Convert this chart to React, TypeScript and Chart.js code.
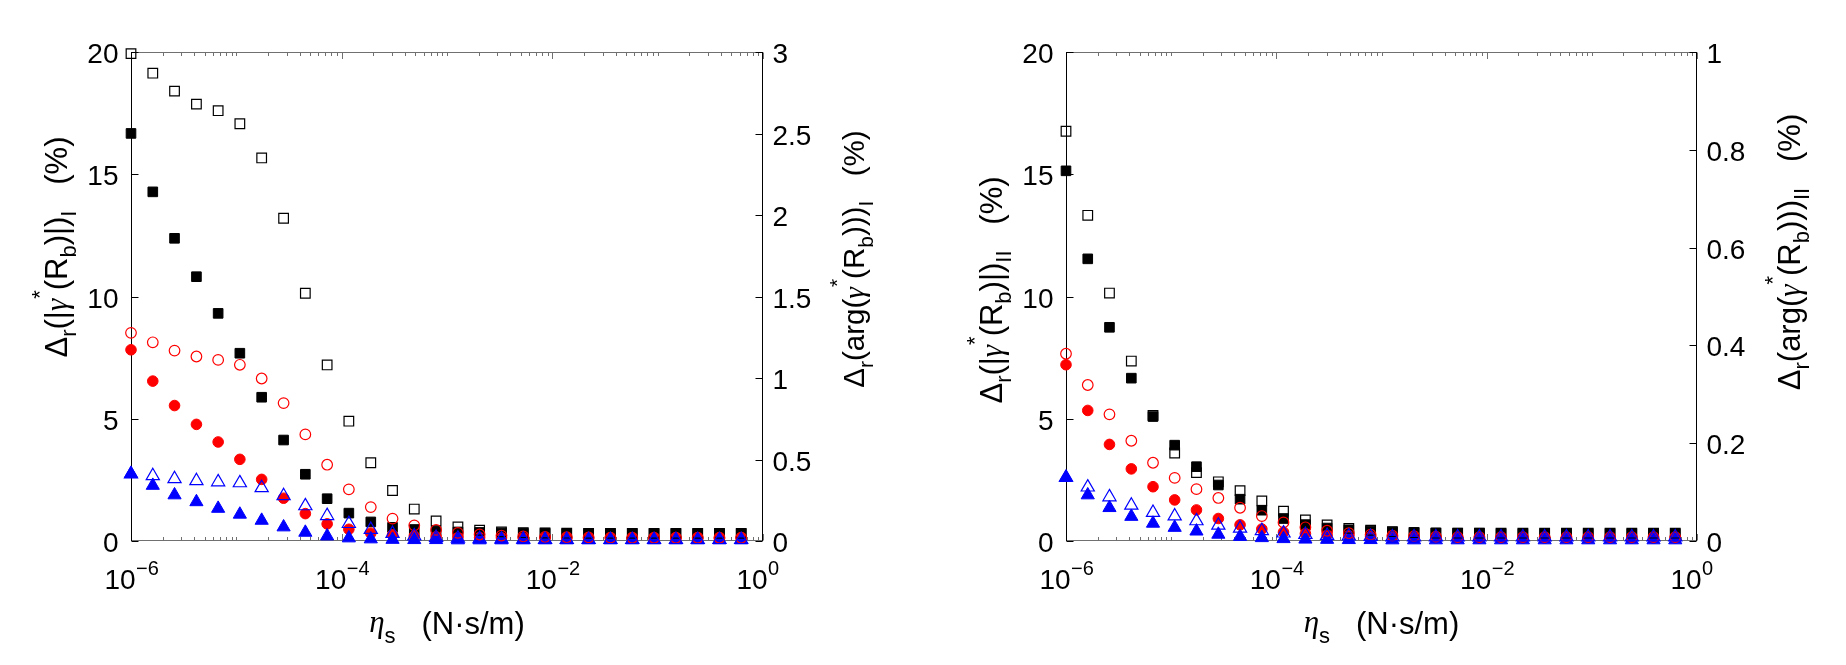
import React, { useEffect, useRef } from 'react';
import { Chart, registerables } from 'chart.js';

Chart.register(...registerables);

// Surface shear viscosity eta_s (N·s/m), logarithmically spaced
const ETA_S = [
  1.0e-6, 1.61e-6, 2.59e-6, 4.18e-6, 6.72e-6, 1.08e-5, 1.74e-5, 2.81e-5, 4.52e-5, 7.28e-5,
  1.17e-4, 1.89e-4, 3.04e-4, 4.89e-4, 7.88e-4, 1.27e-3, 2.04e-3, 3.29e-3, 5.3e-3, 8.53e-3,
  1.37e-2, 2.21e-2, 3.56e-2, 5.74e-2, 9.24e-2, 0.149, 0.24, 0.386, 0.621,
];

// Case I: relative error of |gamma*(R_b)| (left axis, %)
const MAG_I_SQUARE = [
  16.67, 14.28, 12.38, 10.81, 9.31, 7.68, 5.88, 4.13, 2.73, 1.73,
  1.14, 0.78, 0.56, 0.47, 0.41, 0.37, 0.35, 0.33, 0.32, 0.32,
  0.31, 0.31, 0.31, 0.31, 0.31, 0.31, 0.31, 0.31, 0.31,
];
const MAG_I_CIRCLE = [
  7.82, 6.54, 5.54, 4.77, 4.05, 3.34, 2.52, 1.75, 1.12, 0.7,
  0.48, 0.32, 0.25, 0.2, 0.17, 0.15, 0.14, 0.13, 0.12, 0.12,
  0.12, 0.12, 0.12, 0.12, 0.12, 0.12, 0.12, 0.12, 0.12,
];
const MAG_I_TRIANGLE = [
  2.75, 2.27, 1.88, 1.6, 1.33, 1.09, 0.84, 0.57, 0.35, 0.2,
  0.12, 0.08, 0.06, 0.05, 0.05, 0.04, 0.04, 0.04, 0.04, 0.04,
  0.04, 0.04, 0.04, 0.04, 0.04, 0.04, 0.04, 0.04, 0.04,
];
// Case I: relative error of arg(gamma*(R_b)) (right axis, %)
const ARG_I_SQUARE = [
  2.99, 2.87, 2.76, 2.68, 2.64, 2.56, 2.35, 1.98, 1.52, 1.08,
  0.735, 0.48, 0.31, 0.196, 0.123, 0.086, 0.066, 0.056, 0.051, 0.049,
  0.048, 0.047, 0.047, 0.047, 0.047, 0.047, 0.047, 0.047, 0.047,
];
const ARG_I_CIRCLE = [
  1.277, 1.219, 1.168, 1.132, 1.111, 1.081, 0.997, 0.846, 0.654, 0.468,
  0.317, 0.208, 0.137, 0.096, 0.068, 0.05, 0.04, 0.033, 0.028, 0.025,
  0.023, 0.022, 0.021, 0.02, 0.02, 0.02, 0.02, 0.02, 0.02,
];
const ARG_I_TRIANGLE = [
  0.41, 0.4, 0.381, 0.369, 0.362, 0.356, 0.326, 0.277, 0.215, 0.155,
  0.106, 0.07, 0.045, 0.03, 0.021, 0.016, 0.013, 0.011, 0.01, 0.009,
  0.009, 0.008, 0.008, 0.008, 0.008, 0.008, 0.008, 0.008, 0.008,
];

// Case II: relative error of |gamma*(R_b)| (left axis, %)
const MAG_II_SQUARE = [
  15.14, 11.54, 8.74, 6.66, 5.09, 3.92, 3.04, 2.29, 1.71, 1.26,
  0.92, 0.67, 0.53, 0.46, 0.41, 0.37, 0.35, 0.33, 0.32, 0.32,
  0.31, 0.31, 0.31, 0.31, 0.31, 0.31, 0.31, 0.31, 0.31,
];
const MAG_II_CIRCLE = [
  7.21, 5.34, 3.95, 2.95, 2.22, 1.68, 1.27, 0.92, 0.66, 0.49,
  0.36, 0.3, 0.25, 0.21, 0.18, 0.16, 0.14, 0.13, 0.12, 0.12,
  0.12, 0.12, 0.12, 0.12, 0.12, 0.12, 0.12, 0.12, 0.12,
];
const MAG_II_TRIANGLE = [
  2.59, 1.88, 1.36, 1.0, 0.72, 0.55, 0.4, 0.27, 0.18, 0.13,
  0.09, 0.07, 0.06, 0.05, 0.05, 0.04, 0.04, 0.04, 0.04, 0.04,
  0.04, 0.04, 0.04, 0.04, 0.04, 0.04, 0.04, 0.04, 0.04,
];
// Case II: relative error of arg(gamma*(R_b)) (right axis, %)
const ARG_II_SQUARE = [
  0.838, 0.666, 0.507, 0.368, 0.257, 0.18, 0.14, 0.121, 0.103, 0.082,
  0.061, 0.043, 0.033, 0.026, 0.022, 0.019, 0.017, 0.016, 0.016, 0.016,
  0.016, 0.016, 0.016, 0.016, 0.016, 0.016, 0.016, 0.016, 0.016,
];
const ARG_II_CIRCLE = [
  0.383, 0.319, 0.259, 0.205, 0.16, 0.129, 0.106, 0.088, 0.068, 0.051,
  0.038, 0.028, 0.021, 0.016, 0.013, 0.011, 0.01, 0.009, 0.008, 0.008,
  0.008, 0.008, 0.008, 0.008, 0.008, 0.008, 0.008, 0.008, 0.008,
];
const ARG_II_TRIANGLE = [
  0.13, 0.11, 0.09, 0.073, 0.058, 0.051, 0.041, 0.032, 0.026, 0.021,
  0.016, 0.013, 0.011, 0.01, 0.009, 0.008, 0.008, 0.008, 0.008, 0.008,
  0.008, 0.008, 0.008, 0.008, 0.008, 0.008, 0.008, 0.008, 0.008,
];

// Axis ticks
const X_MAJOR = [1e-6, 1e-4, 1e-2, 1];
const X_EXPONENTS = ['\u22126', '\u22124', '\u22122', '0'];
const Y_LEFT_TICKS = [0, 5, 10, 15, 20];
const Y_RIGHT_TICKS_I = [0, 0.5, 1, 1.5, 2, 2.5, 3];
const Y_RIGHT_TICKS_II = [0, 0.2, 0.4, 0.6, 0.8, 1];

const SANS = '"Liberation Sans", Arial, Helvetica, sans-serif';
const SERIF = '"Liberation Serif", "DejaVu Serif", serif';

type Seg = { t: string; s: number; dy?: number; g?: boolean };

function segFont(sg: Seg) {
  return sg.g ? `italic ${sg.s}px ${SERIF}` : `${sg.s}px ${SANS}`;
}

// Draws a run of text pieces (with sub/superscripts) centred on x
function drawRich(ctx: CanvasRenderingContext2D, segs: Seg[], x: number, y: number) {
  let w = 0;
  for (const sg of segs) {
    ctx.font = segFont(sg);
    w += ctx.measureText(sg.t).width;
  }
  let cx = x - w / 2;
  ctx.textAlign = 'left';
  ctx.textBaseline = 'alphabetic';
  for (const sg of segs) {
    ctx.font = segFont(sg);
    ctx.fillText(sg.t, cx, y + (sg.dy || 0));
    cx += ctx.measureText(sg.t).width;
  }
}

function magTitle(sub: string, fs = 31): Seg[] {
  const ss = Math.round(fs * 0.71);
  return [
    { t: '\u0394', s: fs },
    { t: 'r', s: ss, dy: 9 },
    { t: '(|', s: fs },
    { t: '\u03b3', s: fs, g: true },
    { t: '*', s: ss, dy: -20 },
    { t: '(R', s: fs },
    { t: 'b', s: ss, dy: 9 },
    { t: ')|)', s: fs },
    { t: sub, s: ss, dy: 9 },
    { t: '   (%)', s: fs },
  ];
}

function argTitle(sub: string, fs = 31): Seg[] {
  const ss = Math.round(fs * 0.71);
  return [
    { t: '\u0394', s: fs },
    { t: 'r', s: ss, dy: 9 },
    { t: '(arg(', s: fs },
    { t: '\u03b3', s: fs, g: true },
    { t: '*', s: ss, dy: -20 },
    { t: '(R', s: fs },
    { t: 'b', s: ss, dy: 9 },
    { t: ')))', s: fs },
    { t: sub, s: ss, dy: 9 },
    { t: '   (%)', s: fs },
  ];
}

const X_TITLE: Seg[] = [
  { t: '\u03b7', s: 31, g: true, dy: -2 },
  { t: 's', s: 22, dy: 9 },
  { t: '   (N\u00b7s/m)', s: 31 },
];

type FrameOpts = {
  rightTicks: number[];
  leftTitle: Seg[];
  rightTitle: Seg[];
  leftTitleDx: number;
  leftTitleY: number;
  rightTitleDx: number;
  rightTitleY: number;
  xTitleY: number;
};

// Box, inward ticks, tick labels and axis titles drawn from the chart's scales
const framePlugin = {
  id: 'frame',
  beforeDatasetsDraw(chart: any, _args: any, o: FrameOpts) {
    const { ctx, chartArea: a } = chart;
    const xs = chart.scales.x;
    const yl = chart.scales.y;
    const yr = chart.scales.y2;
    const L = Math.round(a.left) + 0.5;
    const R = Math.round(a.right) - 0.5;
    const T = Math.round(a.top) + 0.5;
    const B = Math.round(a.bottom) - 0.5;

    ctx.save();
    ctx.lineWidth = 1;

    // horizontal box edges and log ticks
    ctx.strokeStyle = '#707070';
    ctx.beginPath();
    ctx.moveTo(a.left, T);
    ctx.lineTo(a.right, T);
    ctx.moveTo(a.left, B);
    ctx.lineTo(a.right, B);
    for (let e = -6; e <= 0; e++) {
      for (let m = 1; m <= 9; m++) {
        const v = m * Math.pow(10, e);
        if (v > 1.0000001) break;
        const px = Math.round(xs.getPixelForValue(v)) + 0.5;
        const major = m === 1 && e % 2 === 0;
        const len = major ? 6.5 : 3.5;
        ctx.moveTo(px, B);
        ctx.lineTo(px, B - len);
        ctx.moveTo(px, T);
        ctx.lineTo(px, T + len);
      }
    }
    ctx.stroke();

    // vertical axes and their ticks
    ctx.strokeStyle = '#000';
    ctx.beginPath();
    ctx.moveTo(L, a.top);
    ctx.lineTo(L, a.bottom);
    ctx.moveTo(R, a.top);
    ctx.lineTo(R, a.bottom);
    for (const v of Y_LEFT_TICKS) {
      const py = Math.round(yl.getPixelForValue(v)) + 0.5;
      ctx.moveTo(L, py);
      ctx.lineTo(L + 7, py);
    }
    for (const v of o.rightTicks) {
      const py = Math.round(yr.getPixelForValue(v)) + 0.5;
      ctx.moveTo(R, py);
      ctx.lineTo(R - 7, py);
    }
    ctx.stroke();

    // tick labels
    ctx.fillStyle = '#000';
    ctx.textBaseline = 'alphabetic';
    ctx.font = `28px ${SANS}`;
    ctx.textAlign = 'right';
    for (const v of Y_LEFT_TICKS) {
      ctx.fillText(String(v), a.left - 12.5, yl.getPixelForValue(v) + 11);
    }
    ctx.textAlign = 'left';
    for (const v of o.rightTicks) {
      ctx.fillText(String(v), a.right + 9.5, yr.getPixelForValue(v) + 11);
    }
    X_MAJOR.forEach((v, i) => {
      const px = xs.getPixelForValue(v);
      ctx.font = `28px ${SANS}`;
      const bw = ctx.measureText('10').width;
      const bx = px - 11 - bw / 2;
      ctx.fillText('10', bx, a.bottom + 48);
      ctx.font = `20px ${SANS}`;
      ctx.fillText(X_EXPONENTS[i], bx + bw + 0.5, a.bottom + 34);
    });

    // axis titles
    drawRich(ctx, X_TITLE, (a.left + a.right) / 2, o.xTitleY);

    ctx.save();
    ctx.translate(a.left + o.leftTitleDx, o.leftTitleY);
    ctx.rotate(-Math.PI / 2);
    drawRich(ctx, o.leftTitle, 0, 0);
    ctx.restore();

    ctx.save();
    ctx.translate(a.right + o.rightTitleDx, o.rightTitleY);
    ctx.rotate(-Math.PI / 2);
    drawRich(ctx, o.rightTitle, 0, 0);
    ctx.restore();

    ctx.restore();
  },
};

const BLACK = '#000000';
const RED = '#ff0000';
const BLUE = '#0000ff';

function series(
  values: number[],
  yAxisID: string,
  pointStyle: string,
  color: string,
  filled: boolean,
  radius: number,
  order: number,
) {
  const fill = filled ? color : 'rgba(0,0,0,0)';
  return {
    data: ETA_S.map((x, i) => ({ x, y: values[i] })),
    yAxisID,
    showLine: false,
    clip: false,
    order,
    pointStyle,
    pointRadius: radius,
    pointHoverRadius: radius,
    borderColor: color,
    backgroundColor: fill,
    pointBorderColor: color,
    pointBackgroundColor: fill,
    pointBorderWidth: filled ? 1 : 1.2,
  };
}

type PanelCfg = {
  left: number;
  width: number;
  padding: { left: number; right: number; top: number; bottom: number };
  rightMax: number;
  mag: [number[], number[], number[]];
  arg: [number[], number[], number[]];
  frame: FrameOpts;
};

const PANELS: PanelCfg[] = [
  {
    left: 0,
    width: 923,
    padding: { left: 131, right: 160, top: 52, bottom: 124 },
    rightMax: 3,
    mag: [MAG_I_SQUARE, MAG_I_CIRCLE, MAG_I_TRIANGLE],
    arg: [ARG_I_SQUARE, ARG_I_CIRCLE, ARG_I_TRIANGLE],
    frame: {
      rightTicks: Y_RIGHT_TICKS_I,
      leftTitle: magTitle('I'),
      rightTitle: argTitle('I', 29.5),
      leftTitleDx: -64,
      leftTitleY: 247,
      rightTitleDx: 101,
      rightTitleY: 259,
      xTitleY: 634,
    },
  },
  {
    left: 923,
    width: 923,
    padding: { left: 143, right: 149, top: 52, bottom: 124 },
    rightMax: 1,
    mag: [MAG_II_SQUARE, MAG_II_CIRCLE, MAG_II_TRIANGLE],
    arg: [ARG_II_SQUARE, ARG_II_CIRCLE, ARG_II_TRIANGLE],
    frame: {
      rightTicks: Y_RIGHT_TICKS_II,
      leftTitle: magTitle('II'),
      rightTitle: argTitle('II'),
      leftTitleDx: -64,
      leftTitleY: 290,
      rightTitleDx: 103,
      rightTitleY: 252,
      xTitleY: 634,
    },
  },
];

function Panel({ cfg }: { cfg: PanelCfg }) {
  const ref = useRef<HTMLCanvasElement>(null);

  useEffect(() => {
    if (!ref.current) return;
    const chart = new Chart(ref.current, {
      type: 'scatter',
      data: {
        datasets: [
          series(cfg.mag[0], 'y', 'rect', BLACK, true, 6.8, 6),
          series(cfg.mag[1], 'y', 'circle', RED, true, 5.3, 5),
          series(cfg.mag[2], 'y', 'triangle', BLUE, true, 7.6, 4),
          series(cfg.arg[0], 'y2', 'rect', BLACK, false, 6.8, 3),
          series(cfg.arg[1], 'y2', 'circle', RED, false, 5.3, 2),
          series(cfg.arg[2], 'y2', 'triangle', BLUE, false, 7.6, 1),
        ] as any,
      },
      options: {
        responsive: false,
        animation: false,
        devicePixelRatio: 1,
        events: [],
        layout: { padding: cfg.padding },
        scales: {
          x: { type: 'logarithmic', min: 1e-6, max: 1, display: false },
          y: { type: 'linear', min: 0, max: 20, display: false },
          y2: { type: 'linear', position: 'right', min: 0, max: cfg.rightMax, display: false },
        },
        plugins: {
          legend: { display: false },
          tooltip: { enabled: false },
          frame: cfg.frame,
        } as any,
      },
      plugins: [framePlugin as any],
    });
    return () => chart.destroy();
  }, [cfg]);

  return (
    <canvas
      ref={ref}
      width={cfg.width}
      height={665}
      style={{ position: 'absolute', left: cfg.left, top: 0, width: cfg.width, height: 665 }}
    />
  );
}

export default function App() {
  return (
    <div
      style={{
        position: 'absolute',
        left: 0,
        top: 0,
        width: 1846,
        height: 665,
        background: '#ffffff',
        overflow: 'hidden',
      }}
    >
      {PANELS.map((p, i) => (
        <Panel key={i} cfg={p} />
      ))}
    </div>
  );
}
